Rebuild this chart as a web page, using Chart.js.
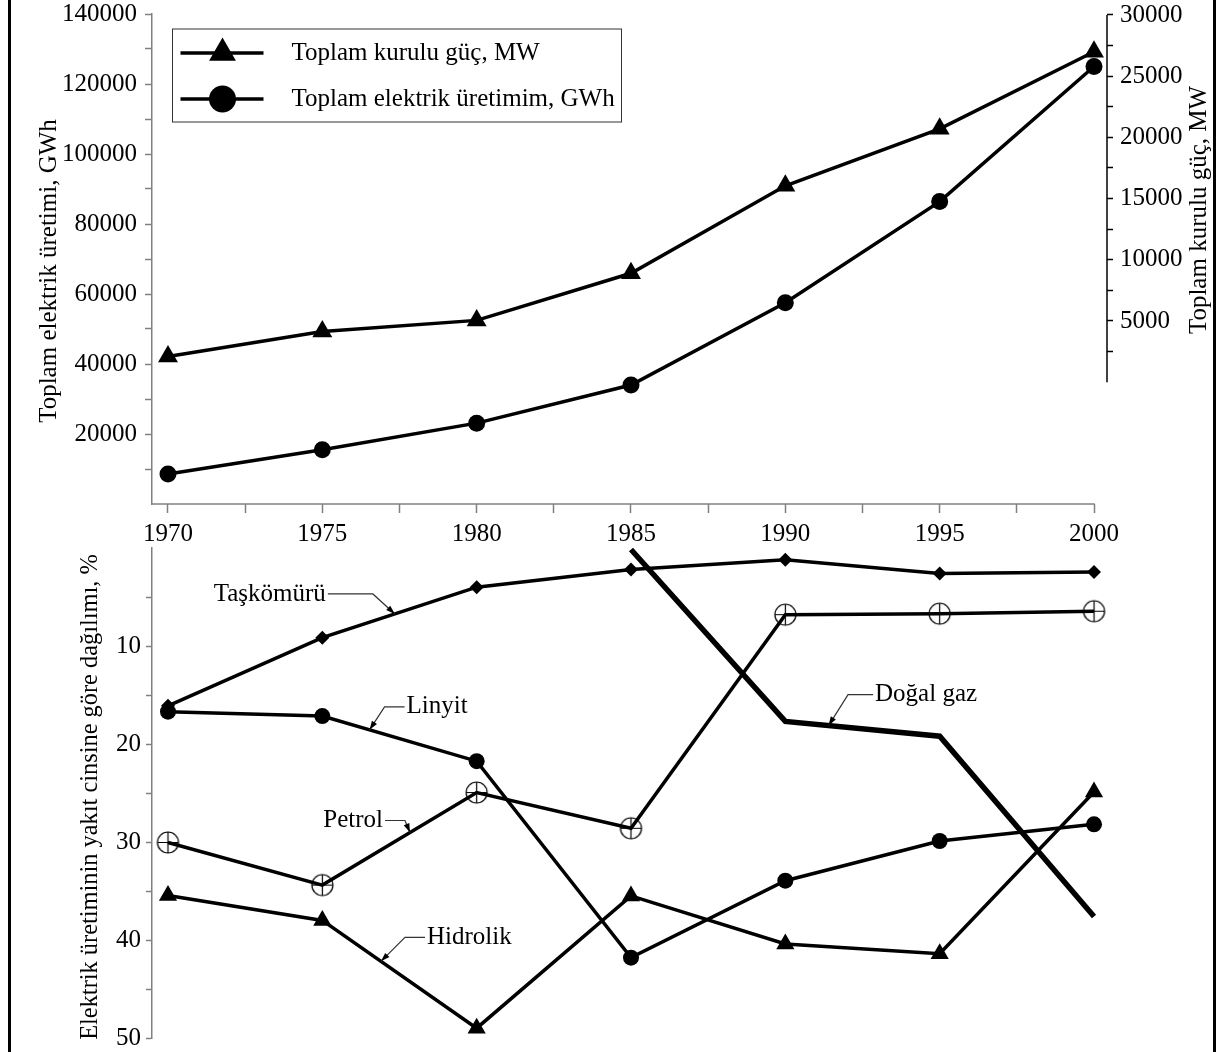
<!DOCTYPE html>
<html>
<head>
<meta charset="utf-8">
<title>Elektrik üretimi</title>
<script src="https://cdn.jsdelivr.net/npm/chart.js@4.4.1/dist/chart.umd.min.js"></script>
<style>
html, body { margin: 0; padding: 0; background: #fff; }
#page { position: relative; width: 1220px; height: 1052px; overflow: hidden; background: #fff; }
#topBox { position: absolute; left: 0; top: -16px; width: 1220px; height: 576px; }
#botBox { position: absolute; left: 0; top: 518px; width: 1220px; height: 550px; }
#frameL { position: absolute; left: 8px; top: 0; width: 3px; height: 1052px; background: #000; }
#frameR { position: absolute; left: 1213px; top: 0; width: 3px; height: 1052px; background: #000; }
</style>
</head>
<body>
<div id="page">
  <div id="botBox"><canvas id="botChart" width="1220" height="550"></canvas></div>
  <div id="topBox"><canvas id="topChart" width="1220" height="576"></canvas></div>
  <div id="frameL"></div>
  <div id="frameR"></div>
</div>
<script>
var GRAY = '#808080';
var FONT = "'Liberation Serif', 'Times New Roman', serif";
var FS = 25;

// veriler
var years = [1970, 1975, 1980, 1985, 1990, 1995, 2000];
var kuruluGucMW = [2100, 4150, 5050, 8900, 16050, 20700, 27000];
var uretimGWh = [8600, 15500, 23100, 34000, 57500, 86400, 125000];

var taskomuru = [16.1, 9.15, 4.0, 2.2, 1.2, 2.6, 2.45];
var linyit = [16.7, 17.15, 21.75, 41.8, 33.95, 29.9, 28.2];
var petrol = [30.05, 34.4, 24.95, 28.6, 6.8, 6.7, 6.45];
var hidrolik = [35.45, 38.0, 49.0, 35.5, 40.4, 41.4, 24.9];
var dogalGaz = [null, null, null, 0.15, 17.7, 19.2, 37.6];

// eksen tikleri
var yearTicks = [1970, 1972.5, 1975, 1977.5, 1980, 1982.5, 1985, 1987.5, 1990, 1992.5, 1995, 1997.5, 2000];
var gwhTicks = [10000, 20000, 30000, 40000, 50000, 60000, 70000, 80000, 90000, 100000, 110000, 120000, 130000, 140000];
var mwTicks = [2500, 5000, 7500, 10000, 12500, 15000, 17500, 20000, 22500, 25000, 27500, 30000];
var pctTicks = [5, 10, 15, 20, 25, 30, 35, 40, 45, 50];

function pts(vals) {
  return years.map(function (yr, i) { return { x: yr, y: vals[i] }; });
}
function setTicks(list) {
  return function (s) { s.ticks = list.map(function (v) { return { value: v }; }); };
}

Chart.defaults.font.family = FONT;
Chart.defaults.font.size = FS;
Chart.defaults.color = '#000';

// daire icinde arti isareti (petrol)
function crossCircle(r) {
  var c = document.createElement('canvas');
  var s = Math.ceil(r * 2 + 4);
  c.width = s; c.height = s;
  var g = c.getContext('2d');
  var m = s / 2;
  g.strokeStyle = '#000';
  g.lineWidth = 1.2;
  g.beginPath(); g.arc(m, m, r, 0, Math.PI * 2); g.stroke();
  g.beginPath();
  g.moveTo(m - r, m); g.lineTo(m + r, m);
  g.moveTo(m, m - r); g.lineTo(m, m + r);
  g.stroke();
  return c;
}

function rotText(ctx, text, x, y, ang) {
  ctx.save();
  ctx.translate(x, y);
  ctx.rotate(ang);
  ctx.textAlign = 'center';
  ctx.textBaseline = 'middle';
  ctx.fillText(text, 0, 0);
  ctx.restore();
}

function markerPath(ctx, style, x, y, r) {
  ctx.beginPath();
  if (style === 'triangle') {
    for (var k = 0; k < 3; k++) {
      var a = -Math.PI / 2 + k * 2 * Math.PI / 3;
      if (k === 0) ctx.moveTo(x + r * Math.cos(a), y + r * Math.sin(a));
      else ctx.lineTo(x + r * Math.cos(a), y + r * Math.sin(a));
    }
    ctx.closePath();
  } else {
    ctx.arc(x, y, r, 0, Math.PI * 2);
  }
}

var topDecor = {
  id: 'topDecor',
  afterDraw: function (chart) {
    var ctx = chart.ctx, a = chart.chartArea;
    var xs = chart.scales.x, mw = chart.scales.yMW;
    ctx.save();

    // x ekseni cizgisi (2000'de biter)
    ctx.strokeStyle = GRAY;
    ctx.lineWidth = 1.5;
    ctx.beginPath();
    ctx.moveTo(a.left, a.bottom);
    ctx.lineTo(xs.getPixelForValue(2000) + 0.75, a.bottom);
    ctx.stroke();

    // sag eksen cizgisi 0..30000
    ctx.strokeStyle = '#000';
    ctx.beginPath();
    ctx.moveTo(mw.left, mw.getPixelForValue(0));
    ctx.lineTo(mw.left, mw.getPixelForValue(30000));
    ctx.stroke();

    // eksen basliklari
    ctx.fillStyle = '#000';
    ctx.font = FS + 'px ' + FONT;
    rotText(ctx, 'Toplam elektrik üretimi, GWh', 49, a.top + 257, -Math.PI / 2);
    rotText(ctx, 'Toplam kurulu güç, MW', 1199, a.top + 196, -Math.PI / 2);

    // lejant
    var bx = a.left + 20.5, by = a.top + 15;
    ctx.fillStyle = '#fff';
    ctx.fillRect(bx, by, 449, 93);
    ctx.strokeStyle = '#333';
    ctx.lineWidth = 1;
    ctx.strokeRect(bx, by, 449, 93);
    var sizes = [15.5, 13.5];
    chart.data.datasets.forEach(function (ds, i) {
      var ry = by + 24 + i * 46;
      ctx.strokeStyle = '#000';
      ctx.lineWidth = 3.5;
      ctx.beginPath();
      ctx.moveTo(bx + 8, ry);
      ctx.lineTo(bx + 91, ry);
      ctx.stroke();
      ctx.fillStyle = '#000';
      markerPath(ctx, ds.pointStyle, bx + 50, ry, sizes[i]);
      ctx.fill();
      ctx.textAlign = 'left';
      ctx.textBaseline = 'middle';
      ctx.fillText(ds.label, bx + 119, ry);
    });
    ctx.restore();
  }
};

// etiket + ok (seri cizgisi uzerindeki noktaya)
var callouts = [
  { dataset: 0, tipYear: 1977.35, elbow: [-22, -20], arm: -45 },
  { dataset: 1, tipYear: 1976.53, elbow: [15, -23], arm: 20 },
  { dataset: 2, tipYear: 1977.84, elbow: [-5, -12], arm: -20 },
  { dataset: 3, tipYear: 1976.9, elbow: [24, -24], arm: 20 },
  { dataset: 4, tipYear: 1991.4, elbow: [19.5, -31], arm: 25 }
];

var botDecor = {
  id: 'botDecor',
  afterDraw: function (chart) {
    var ctx = chart.ctx, a = chart.chartArea;
    var xs = chart.scales.x, ys = chart.scales.y;
    ctx.save();
    ctx.fillStyle = '#000';
    ctx.font = '24.4px ' + FONT;
    rotText(ctx, 'Elektrik üretiminin yakıt cinsine göre dağılımı, %', 91, (a.top + a.bottom) / 2 + 4, -Math.PI / 2);

    ctx.font = FS + 'px ' + FONT;
    callouts.forEach(function (c) {
      var ds = chart.data.datasets[c.dataset];
      var d = ds.data, v = null;
      for (var i = 0; i < d.length - 1; i++) {
        if (d[i].y != null && d[i + 1].y != null && c.tipYear >= d[i].x && c.tipYear <= d[i + 1].x) {
          v = d[i].y + (d[i + 1].y - d[i].y) * (c.tipYear - d[i].x) / (d[i + 1].x - d[i].x);
        }
      }
      var tx = xs.getPixelForValue(c.tipYear), ty = ys.getPixelForValue(v);
      var ex = tx + c.elbow[0], ey = ty + c.elbow[1];
      var hx = ex + c.arm;
      ctx.strokeStyle = '#333';
      ctx.lineWidth = 1.2;
      ctx.beginPath();
      ctx.moveTo(hx, ey); ctx.lineTo(ex, ey); ctx.lineTo(tx, ty);
      ctx.stroke();
      var ang = Math.atan2(ty - ey, tx - ex), L = 9, W = 3;
      ctx.fillStyle = '#000';
      ctx.beginPath();
      ctx.moveTo(tx, ty);
      ctx.lineTo(tx - L * Math.cos(ang) + W * Math.sin(ang), ty - L * Math.sin(ang) - W * Math.cos(ang));
      ctx.lineTo(tx - L * Math.cos(ang) - W * Math.sin(ang), ty - L * Math.sin(ang) + W * Math.cos(ang));
      ctx.closePath();
      ctx.fill();
      ctx.textBaseline = 'middle';
      ctx.textAlign = c.arm < 0 ? 'right' : 'left';
      ctx.fillText(ds.label, hx + (c.arm < 0 ? -2 : 2), ey);
    });
    ctx.restore();
  }
};

var lineBase = {
  borderColor: '#000',
  backgroundColor: '#000',
  pointBackgroundColor: '#000',
  pointBorderColor: '#000',
  pointBorderWidth: 0,
  borderWidth: 3.5,
  tension: 0,
  fill: false,
  clip: false
};
function ds(extra) { return Object.assign({}, lineBase, extra); }

var xMin = 1969.482, xMax = 2000.421;

var topChart = new Chart(document.getElementById('topChart'), {
  type: 'line',
  data: {
    datasets: [
      ds({ label: 'Toplam kurulu güç, MW', data: pts(kuruluGucMW), yAxisID: 'yMW', pointStyle: 'triangle', pointRadius: 11.5 }),
      ds({ label: 'Toplam elektrik üretimim, GWh', data: pts(uretimGWh), yAxisID: 'yGWh', pointStyle: 'circle', pointRadius: 8.5 })
    ]
  },
  options: {
    responsive: false,
    animation: false,
    events: [],
    layout: { padding: { top: 30, left: 0, right: 0, bottom: 0 } },
    plugins: { legend: { display: false }, tooltip: { enabled: false } },
    scales: {
      x: {
        type: 'linear', position: 'bottom', min: xMin, max: xMax,
        afterBuildTicks: setTicks(yearTicks),
        afterFit: function (s) { s.height = 56; },
        border: { display: false },
        grid: { drawOnChartArea: false, tickLength: 9, tickColor: GRAY, tickWidth: 1.5 },
        ticks: { autoSkip: false, maxRotation: 0, padding: 6, callback: function (v) { return v % 5 === 0 ? String(v) : ''; } }
      },
      yGWh: {
        type: 'linear', position: 'left', min: 0, max: 140000,
        afterBuildTicks: setTicks(gwhTicks),
        afterFit: function (s) { s.width = 152; },
        border: { color: GRAY, width: 1.5 },
        grid: { drawOnChartArea: false, tickLength: 7, tickColor: GRAY, tickWidth: 1.5 },
        ticks: { padding: 8, callback: function (v) { return v % 20000 === 0 ? String(v) : ''; } }
      },
      yMW: {
        type: 'linear', position: 'right', min: -9950, max: 30080,
        afterBuildTicks: setTicks(mwTicks),
        afterFit: function (s) { s.width = 113; },
        border: { display: false },
        grid: { drawOnChartArea: false, tickLength: 6, tickColor: '#000', tickWidth: 1.5 },
        ticks: { padding: 7, callback: function (v) { return v % 5000 === 0 ? String(v) : ''; } }
      }
    }
  },
  plugins: [topDecor]
});

var botChart = new Chart(document.getElementById('botChart'), {
  type: 'line',
  data: {
    datasets: [
      ds({ label: 'Taşkömürü', data: pts(taskomuru), pointStyle: 'rectRot', pointRadius: 7 }),
      ds({ label: 'Linyit', data: pts(linyit), pointStyle: 'circle', pointRadius: 8 }),
      ds({ label: 'Petrol', data: pts(petrol), pointStyle: crossCircle(10.5), pointRadius: 10.5 }),
      ds({ label: 'Hidrolik', data: pts(hidrolik), pointStyle: 'triangle', pointRadius: 10.5 }),
      ds({ label: 'Doğal gaz', data: pts(dogalGaz), pointRadius: 0, borderWidth: 5.5 })
    ]
  },
  options: {
    responsive: false,
    animation: false,
    events: [],
    layout: { padding: { top: 30, left: 0, right: 113, bottom: 30 } },
    plugins: { legend: { display: false }, tooltip: { enabled: false } },
    scales: {
      x: { type: 'linear', display: false, min: xMin, max: xMax },
      y: {
        type: 'linear', position: 'left', reverse: true, min: 0, max: 50,
        afterBuildTicks: setTicks(pctTicks),
        afterFit: function (s) { s.width = 152; },
        border: { color: GRAY, width: 1.5 },
        grid: { drawOnChartArea: false, tickLength: 6, tickColor: GRAY, tickWidth: 1.5 },
        ticks: { padding: 5, callback: function (v) { return v % 10 === 0 ? String(v) : ''; } }
      }
    }
  },
  plugins: [botDecor]
});
</script>
</body>
</html>
